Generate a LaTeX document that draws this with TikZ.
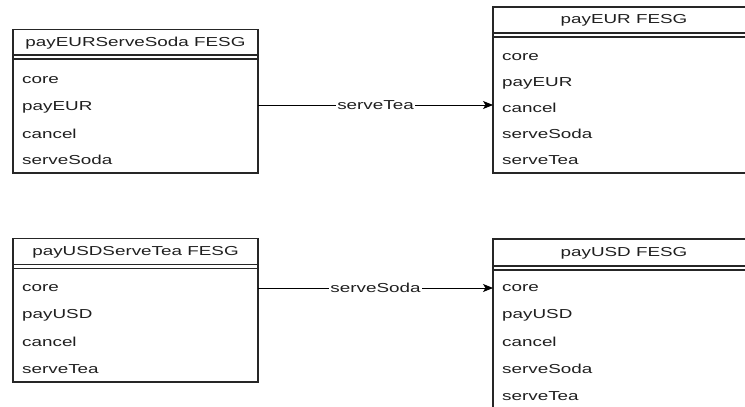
\documentclass[tikz,border=0pt]{standalone}
\usepackage{fontspec}
\setmainfont[FakeStretch=1.45]{Liberation Sans}
\usetikzlibrary{arrows.meta}
\tikzset{
  classbox/.style={draw=black!85, line width=1.2pt, anchor=north west, inner sep=0pt, outer sep=0pt},
  sepline/.style={draw=black!85, line width=1.1pt},
  titletext/.style={font=\fontsize{13}{15}\selectfont, text=black!88, inner sep=0pt},
  rowtext/.style={font=\fontsize{13}{15}\selectfont, text=black!88, anchor=west, inner sep=0pt},
  conn/.style={draw=black, line width=0.8pt, -{Stealth[length=10pt,width=8pt,inset=2.5pt]}},
  edgelabel/.style={font=\fontsize{13}{15}\selectfont, text=black!88, fill=white, inner sep=1pt}
}
\begin{document}
\begin{tikzpicture}[x=1pt,y=-1pt]
\useasboundingbox (0,0) rectangle (745,407);
\begin{scope}
\clip (0,0) rectangle (745,407);

% payEURServeSoda FESG
\node[classbox, minimum width=245pt, minimum height=143.5pt] (tl) at (13,29.5) {};
\node[titletext] (tlt) at (135.5,43.5) {payEURServeSoda FESG};
\draw[sepline] (13,55) -- (258,55) (13,59) -- (258,59);
\node[rowtext] (tl1) at (22,80) {core};
\node[rowtext] (tl2) at (22,107) {payEUR};
\node[rowtext] (tl3) at (22,134) {cancel};
\node[rowtext] (tl4) at (22,160) {serveSoda};

% payEUR FESG
\node[classbox, minimum width=262pt, minimum height=166pt] (tr) at (493,7) {};
\node[titletext] (trt) at (624,20.5) {payEUR FESG};
\draw[sepline] (493,33) -- (755,33) (493,37) -- (755,37);
\node[rowtext] (tr1) at (502,57) {core};
\node[rowtext] (tr2) at (502,83) {payEUR};
\node[rowtext] (tr3) at (502,108) {cancel};
\node[rowtext] (tr4) at (502,134) {serveSoda};
\node[rowtext] (tr5) at (502,160) {serveTea};

% payUSDServeTea FESG
\node[classbox, minimum width=245pt, minimum height=143.5pt] (bl) at (13,238.5) {};
\node[titletext] (blt) at (135.5,252) {payUSDServeTea FESG};
\draw[sepline] (13,264.5) -- (258,264.5) (13,268.5) -- (258,268.5);
\node[rowtext] (bl1) at (22,288) {core};
\node[rowtext] (bl2) at (22,315) {payUSD};
\node[rowtext] (bl3) at (22,342) {cancel};
\node[rowtext] (bl4) at (22,369) {serveTea};

% payUSD FESG
\node[classbox, minimum width=262pt, minimum height=185pt] (br) at (493,239) {};
\node[titletext] (brt) at (624,253) {payUSD FESG};
\draw[sepline] (493,266) -- (755,266) (493,270) -- (755,270);
\node[rowtext] (br1) at (502,288) {core};
\node[rowtext] (br2) at (502,315) {payUSD};
\node[rowtext] (br3) at (502,342) {cancel};
\node[rowtext] (br4) at (502,369) {serveSoda};
\node[rowtext] (br5) at (502,396) {serveTea};
\end{scope}

% transitions
\coordinate (y1) at (0,105);
\coordinate (y2) at (0,288);
\draw[conn] (tl.east |- y1) -- node[edgelabel] (e1) {serveTea} (tr.west |- y1);
\draw[conn] (bl.east |- y2) -- node[edgelabel] (e2) {serveSoda} (br.west |- y2);
\end{tikzpicture}
\end{document}
